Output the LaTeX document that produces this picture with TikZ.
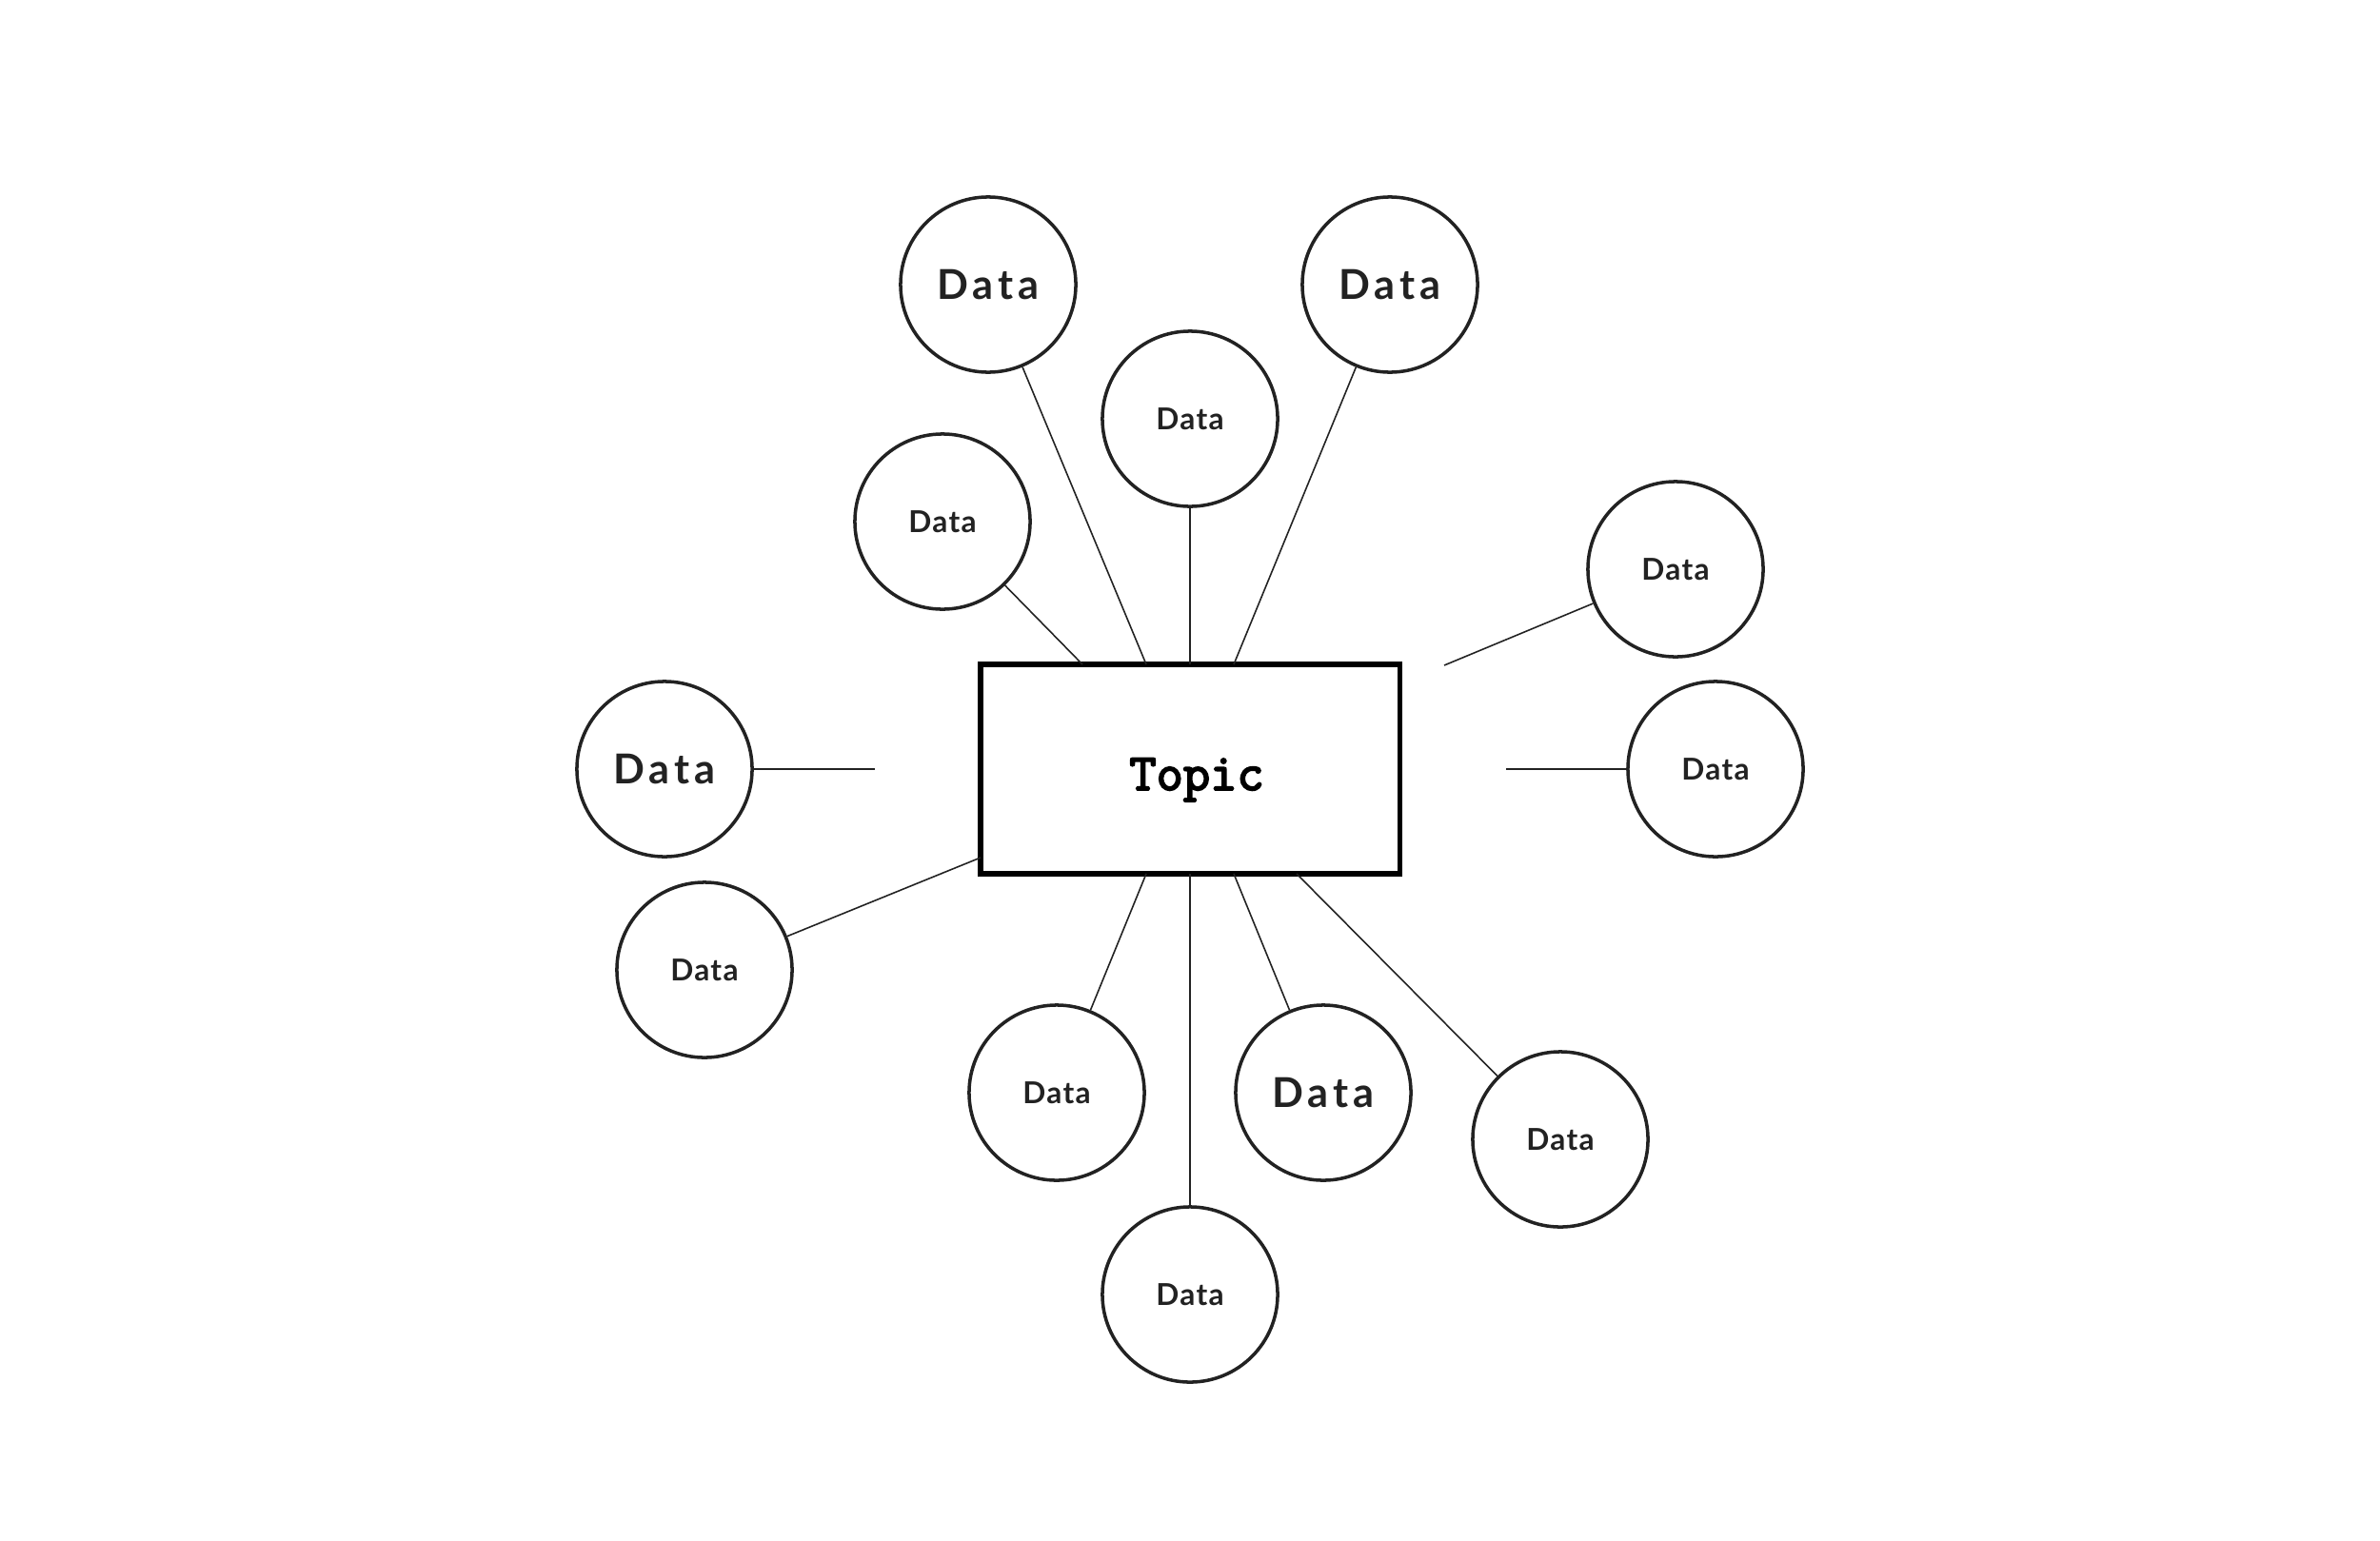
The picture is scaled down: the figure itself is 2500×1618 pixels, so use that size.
\documentclass[tikz,border=0pt]{standalone}
\usepackage{fontspec}
\newfontfamily\datafont{Lato}[LetterSpace=4]
\newfontfamily\bigdatafont{Lato}[LetterSpace=12]
\newfontfamily\topicfont{Latin Modern Mono}[FakeBold=3.5]
\definecolor{ink}{HTML}{222222}

\begin{document}
\begin{tikzpicture}[x=0.01cm, y=-0.01cm,
    data/.style={circle, draw=ink, line width=1pt, minimum size=1.84cm, inner sep=0pt, text=ink,
      font=\fontsize{9}{9}\selectfont\datafont\bfseries},
    bigdata/.style={data, font=\fontsize{12.3}{12.3}\selectfont\bigdatafont\bfseries},
    topicbox/.style={draw=black, line width=1.5pt, minimum width=4.4cm, minimum height=2.2cm, inner sep=0pt},
    topictext/.style={inner sep=0pt, anchor=base, font=\fontsize{15.6}{15.6}\selectfont\topicfont},
    link/.style={draw=ink, line width=0.45pt}]
    \useasboundingbox (0,0) rectangle (2500,1618);

    \node [topicbox] (topic) at (1250,808) {};
    \node [topictext] (topic label) at (1257,830) {Topic};

    % data around the topic
    \node [bigdata] (dtl) at (1038,299) {Data};
    \node [bigdata] (dtr) at (1460,299) {Data};
    \node [data] (dtop) at (1250,440) {Data};
    \node [data] (dul) at (990,548) {Data};
    \node [data] (dur) at (1760,598) {Data};
    \node [data] (dr) at (1802,808) {Data};
    \node [bigdata] (dl) at (698,808) {Data};
    \node [data] (dll) at (740,1019) {Data};
    \node [data] (dbl) at (1110,1148) {Data};
    \node [bigdata] (dbr) at (1390,1148) {Data};
    \node [data] (dbrr) at (1639,1197) {Data};
    \node [data] (dbot) at (1250,1360) {Data};

    % ends on the box and loose ends
    \coordinate (t1) at (1137,698);
    \coordinate (t2) at (1204,698);
    \coordinate (t3) at (1250,698);
    \coordinate (t4) at (1296,698);
    \coordinate (b1) at (1204,918);
    \coordinate (b2) at (1250,918);
    \coordinate (b3) at (1296,918);
    \coordinate (b4) at (1362,918);
    \coordinate (l1) at (1030,901);
    \coordinate (free ur) at (1517,699);
    \coordinate (free r) at (1582,808);
    \coordinate (free l) at (919,808);

    \draw [link] (dul) -- (t1);
    \draw [link] (dtl) -- (t2);
    \draw [link] (dtop) -- (t3);
    \draw [link] (dtr) -- (t4);
    \draw [link] (dur) -- (free ur);
    \draw [link] (dr) -- (free r);
    \draw [link] (dl) -- (free l);
    \draw [link] (dll) -- (l1);
    \draw [link] (dbl) -- (b1);
    \draw [link] (dbot) -- (b2);
    \draw [link] (dbr) -- (b3);
    \draw [link] (dbrr) -- (b4);
\end{tikzpicture}
\end{document}
